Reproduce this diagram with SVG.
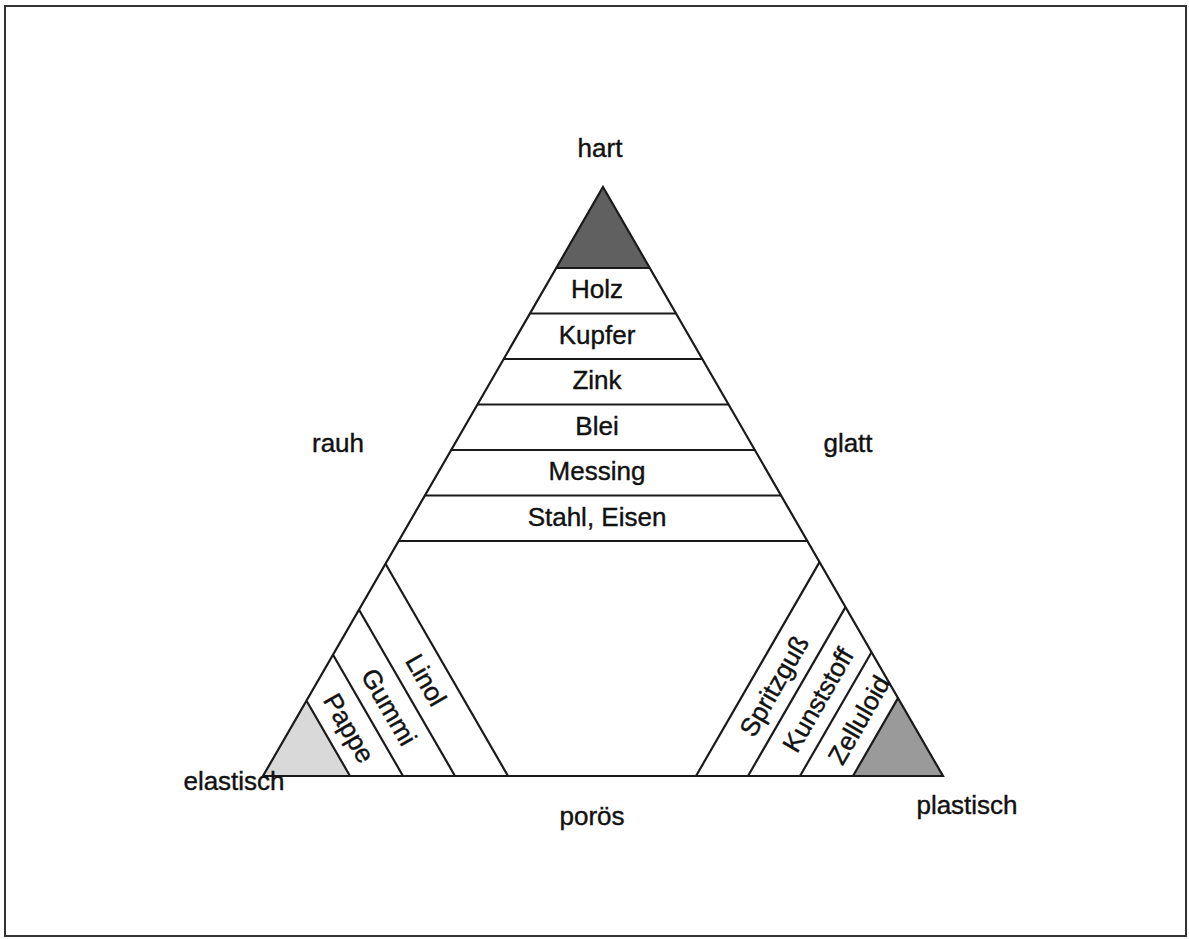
<svg xmlns="http://www.w3.org/2000/svg" width="1189" height="939" viewBox="0 0 1189 939">
<style>
.ln{stroke:#1a1a1a;stroke-width:2.2;fill:none;stroke-linejoin:miter}
.t{font-family:"Liberation Sans",Arial,sans-serif;font-size:26px;fill:#111;stroke:#111;stroke-width:0.4;text-anchor:middle}
</style>
<rect x="0" y="0" width="1189" height="939" fill="#fff"/>
<rect x="5" y="6" width="1181" height="930" fill="none" stroke="#333" stroke-width="2"/>
<g id="fills">
<polygon id="hart-area" points="603,187 649.8,268 556.2,268" fill="#606060"/>
<polygon id="elastisch-area" points="263,776 306.5,700.7 350,776" fill="#d9d9d9"/>
<polygon id="plastisch-area" points="853,776 898,698.1 943,776" fill="#9a9a9a"/>
</g>
<g id="connectors">
<polygon class="ln" points="603,187 943,776 263,776"/>
<line class="ln" x1="556.2" y1="268" x2="649.8" y2="268"/>
<line class="ln" x1="530" y1="313.5" x2="676" y2="313.5"/>
<line class="ln" x1="503.7" y1="359" x2="702.3" y2="359"/>
<line class="ln" x1="477.4" y1="404.5" x2="728.6" y2="404.5"/>
<line class="ln" x1="451.1" y1="450" x2="754.9" y2="450"/>
<line class="ln" x1="424.9" y1="495.5" x2="781.1" y2="495.5"/>
<line class="ln" x1="398.6" y1="541" x2="807.4" y2="541"/>
<line class="ln" x1="306.5" y1="700.7" x2="350" y2="776"/>
<line class="ln" x1="333" y1="654.8" x2="403" y2="776"/>
<line class="ln" x1="359" y1="609.7" x2="455" y2="776"/>
<line class="ln" x1="385.5" y1="563.8" x2="508" y2="776"/>
<line class="ln" x1="898" y1="698.1" x2="853" y2="776"/>
<line class="ln" x1="871.5" y1="652.2" x2="800" y2="776"/>
<line class="ln" x1="845.5" y1="607.1" x2="748" y2="776"/>
<line class="ln" x1="819.5" y1="562.1" x2="696" y2="776"/>
</g>
<g id="corner-labels">
<text class="t" x="600" y="157">hart</text>
<text class="t" x="338" y="452">rauh</text>
<text class="t" x="848" y="452">glatt</text>
<text class="t" x="234" y="790">elastisch</text>
<text class="t" x="592" y="825">porös</text>
<text class="t" x="967" y="814">plastisch</text>
</g>
<g id="hart-bands">
<g id="holz"><text class="t" x="597" y="298">Holz</text></g>
<g id="kupfer"><text class="t" x="597" y="343.5">Kupfer</text></g>
<g id="zink"><text class="t" x="597" y="389">Zink</text></g>
<g id="blei"><text class="t" x="597" y="434.5">Blei</text></g>
<g id="messing"><text class="t" x="597" y="480">Messing</text></g>
<g id="stahl"><text class="t" x="597" y="525.5">Stahl, Eisen</text></g>
</g>
<g id="elastisch-bands">
<g id="pappe" transform="translate(349,728) rotate(60)"><text class="t" x="0" y="9">Pappe</text></g>
<g id="gummi" transform="translate(389,707) rotate(60)"><text class="t" x="0" y="9">Gummi</text></g>
<g id="linol" transform="translate(426,680) rotate(60)"><text class="t" x="0" y="9">Linol</text></g>
</g>
<g id="plastisch-bands">
<g id="spritzguss" transform="translate(774,686) rotate(-60)"><text class="t" x="0" y="9">Spritzguß</text></g>
<g id="kunststoff" transform="translate(818,700) rotate(-60)"><text class="t" x="0" y="9">Kunststoff</text></g>
<g id="zelluloid" transform="translate(859,720) rotate(-60)"><text class="t" x="0" y="9">Zelluloid</text></g>
</g>
</svg>
